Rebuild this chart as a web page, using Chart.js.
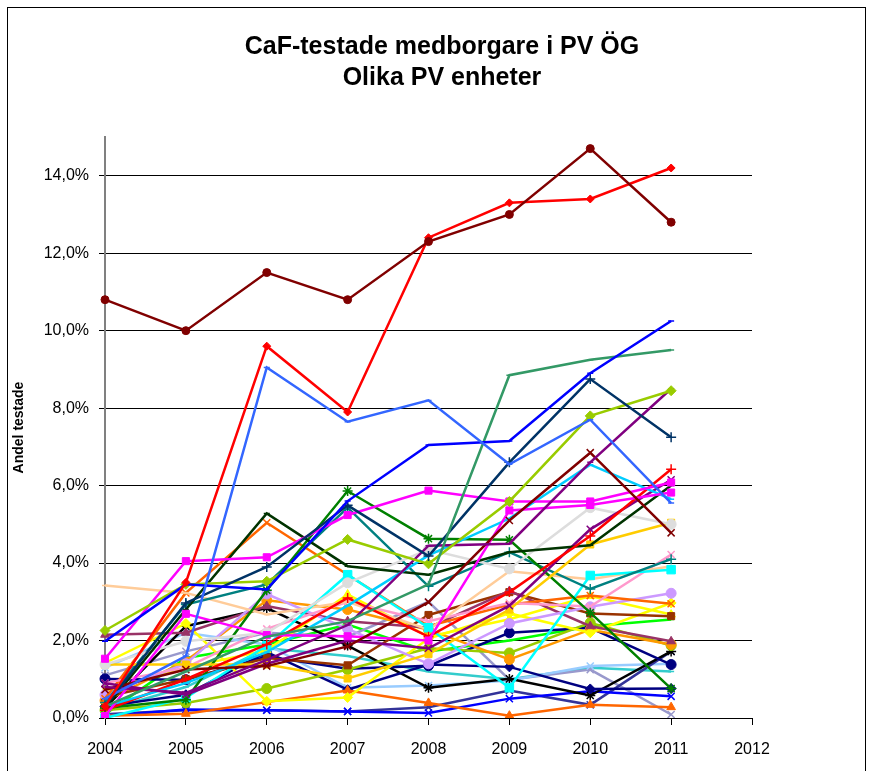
<!DOCTYPE html>
<html>
<head>
<meta charset="utf-8">
<script src="https://cdn.jsdelivr.net/npm/chart.js@4.4.1/dist/chart.umd.min.js"></script>
<style>
    body { margin: 0; background: #fff; }
    #wrap { position: relative; width: 873px; height: 771px; }
    .title {
        position: absolute; left: 0; width: 884px; text-align: center;
        font-family: "Liberation Sans", Arial, sans-serif; font-weight: bold;
        font-size: 25px; color: #000; line-height: 30px;
    }
</style>
</head>
<body>
<div id="wrap">
    <canvas id="chart" width="873" height="771"></canvas>
    <div class="title" style="top:30px">CaF-testade medborgare i PV ÖG</div>
    <div class="title" style="top:61px">Olika PV enheter</div>
</div>
<script>
// år på x-axeln (2012 saknar värden)
const years = ["2004", "2005", "2006", "2007", "2008", "2009", "2010", "2011", "2012"];
const yTicks = [0, 2, 4, 6, 8, 10, 12, 14];

// andel testade (%) per PV-enhet, 2004..2011
const maroonCircle  = [10.8, 10.0, 11.5, 10.8, 12.3, 13.0, 14.7, 12.8];
const redDiamond    = [0.3, 3.5, 9.6, 7.9, 12.4, 13.3, 13.4, 14.2];
const royalBlue     = [0.5, 1.6, 9.05, 7.65, 8.2, 6.55, 7.7, 5.55];
const blueLine      = [1.98, 3.45, 3.32, 5.6, 7.05, 7.15, 8.9, 10.25];
const seaGreen      = [0.3, 1.2, 2.1, 2.5, 3.45, 8.85, 9.25, 9.5];
const darkSlate     = [0.3, 2.97, 3.9, 5.49, 4.18, 6.6, 8.75, 7.25];
const ygDiamond     = [2.26, 3.45, 3.53, 4.61, 3.98, 5.59, 7.8, 8.45];
const purpleLine    = [0.8, 0.65, 1.5, 2.4, 4.45, 4.5, 6.6, 8.5];
const maroonX       = [0.73, 1.25, 1.34, 1.85, 2.99, 5.1, 6.85, 4.78];
const magentaSq1    = [1.53, 4.05, 4.15, 5.24, 5.87, 5.59, 5.59, 6.08];
const magentaSq2    = [0.05, 2.69, 2.14, 2.11, 2.0, 5.36, 5.5, 5.82];
const skyBlue       = [0.3, 0.9, 1.7, 2.9, 4.2, 5.15, 6.54, 5.65];
const redPlus       = [0.2, 1.0, 1.9, 3.1, 2.1, 3.25, 4.7, 6.42];
const darkGreen     = [0.26, 2.8, 5.28, 3.92, 3.7, 4.28, 4.46, 6.0];
const purpleX       = [0.9, 0.6, 1.4, 2.0, 1.8, 2.9, 4.87, 6.15];
const lightGray     = [1.38, 1.98, 2.2, 3.49, 4.35, 3.85, 5.43, 5.0];
const goldSquare    = [1.38, 1.38, 1.38, 1.02, 1.65, 2.8, 4.48, 5.04];
const greenStar     = [0.26, 0.47, 3.3, 5.86, 4.63, 4.6, 2.72, 0.76];
const tealPlus      = [0.4, 2.93, 3.45, 5.43, 3.4, 4.28, 3.33, 4.1];
const cyanSquare    = [0.0, 0.52, 1.87, 3.7, 2.33, 0.78, 3.68, 3.83];
const peachLine     = [3.42, 3.23, 2.67, 3.0, 2.28, 3.79, 3.58, 3.92];
const pinkX         = [0.9, 1.3, 2.3, 3.0, 2.5, 2.97, 2.88, 4.22];
const orangeX       = [0.5, 3.23, 5.04, 3.7, 2.37, 2.93, 3.16, 2.95];
const lilacCircle   = [0.6, 1.4, 3.2, 2.3, 1.4, 2.44, 2.87, 3.22];
const plumTriangle  = [2.15, 2.2, 2.89, 2.5, 2.33, 3.28, 2.37, 1.98];
const brownSquare   = [0.55, 1.0, 1.55, 1.36, 2.66, 3.25, 2.7, 2.63];
const yellowDiamond = [1.42, 2.44, 0.43, 0.53, 2.05, 2.7, 2.2, 2.97];
const yellowTri     = [0.7, 1.3, 1.75, 3.19, 2.1, 2.55, 3.15, 2.67];
const orangeCircle  = [0.45, 1.47, 3.04, 2.8, 2.28, 1.51, 2.28, 1.9];
const orangeTri     = [0.06, 0.11, 0.41, 0.71, 0.39, 0.06, 0.34, 0.28];
const ygCircle      = [0.2, 0.39, 0.76, 1.25, 1.8, 1.68, 2.46, 1.87];
const navyCircle    = [1.01, 0.99, 1.59, 1.27, 1.35, 2.2, 2.33, 1.38];
const navyDiamond   = [0.3, 0.6, 1.7, 0.73, 1.38, 1.32, 0.75, 0.76];
const blackStar     = [0.26, 2.37, 2.84, 1.87, 0.78, 1.01, 0.58, 1.72];
const blueX         = [0.05, 0.22, 0.2, 0.17, 0.13, 0.5, 0.69, 0.56];
const slateBlueX    = [0.1, 0.2, 0.2, 0.17, 0.28, 0.71, 0.34, 1.72];
const lightBlueX    = [1.3, 2.2, 1.9, 0.78, 0.84, 0.97, 1.34, 1.4];
const lavenderX     = [1.1, 1.72, 2.2, 2.1, 3.0, 0.99, 1.25, 0.09];
const brightGreen   = [0.1, 1.55, 1.9, 2.41, 1.72, 2.0, 2.37, 2.54];
const turquoise     = [0.2, 0.8, 1.8, 1.6, 1.2, 1.0, 1.3, 1.2];

// [data, färg, markör, storlek]
const seriesDefs = [
    [maroonCircle, "#800000", "circle", 4],
    [redDiamond, "#FF0000", "rectRot", 4],
    [royalBlue, "#3366FF", "line", 3],
    [blueLine, "#0000FF", "line", 3],
    [seaGreen, "#339966", "line", 3],
    [darkSlate, "#003366", "cross", 5],
    [ygDiamond, "#99CC00", "rectRot", 5],
    [purpleLine, "#800080", "line", 3],
    [maroonX, "#800000", "crossRot", 5],
    [magentaSq1, "#FF00FF", "rect", 5],
    [magentaSq2, "#FF00FF", "rect", 5],
    [skyBlue, "#00CCFF", "line", 3],
    [redPlus, "#FF0000", "cross", 5],
    [darkGreen, "#003300", "line", 3],
    [purpleX, "#800080", "crossRot", 5],
    [lightGray, "#DDDDDD", "circle", 5],
    [goldSquare, "#FFCC00", "rect", 5],
    [greenStar, "#008000", "star", 5],
    [tealPlus, "#008080", "cross", 5],
    [cyanSquare, "#00FFFF", "rect", 6],
    [peachLine, "#FFCC99", "line", 3],
    [pinkX, "#FF99CC", "crossRot", 5],
    [orangeX, "#FF6600", "crossRot", 5],
    [lilacCircle, "#CC99FF", "circle", 5],
    [plumTriangle, "#993366", "triangle", 5],
    [brownSquare, "#993300", "rect", 5],
    [yellowDiamond, "#FFFF00", "rectRot", 5],
    [yellowTri, "#FFFF00", "triangle", 5],
    [orangeCircle, "#FF9900", "circle", 5],
    [orangeTri, "#FF6600", "triangle", 5],
    [ygCircle, "#99CC00", "circle", 5],
    [navyCircle, "#000080", "circle", 5],
    [navyDiamond, "#000080", "rectRot", 5],
    [blackStar, "#000000", "star", 5],
    [blueX, "#0000FF", "crossRot", 5],
    [slateBlueX, "#333399", "crossRot", 5],
    [lightBlueX, "#99CCFF", "crossRot", 5],
    [lavenderX, "#9999CC", "crossRot", 5],
    [brightGreen, "#00FF00", "line", 3],
    [turquoise, "#33CCCC", "line", 3]
];

const datasets = seriesDefs.map(([data, color, marker, size], i) => ({
    label: "PV " + (i + 1),
    data: data,
    borderColor: color,
    backgroundColor: color,
    borderWidth: 2.5,
    tension: 0,
    fill: false,
    pointStyle: marker,
    pointRadius: size,
    pointBorderWidth: marker === "cross" || marker === "crossRot" || marker === "star" || marker === "line" ? 1.5 : 1,
    spanGaps: false
}));

// ram runt hela diagrammet
const framePlugin = {
    id: "framePlugin",
    afterDraw(chart) {
        const { ctx } = chart;
        ctx.save();
        ctx.strokeStyle = "#000";
        ctx.lineWidth = 1;
        ctx.strokeRect(7.5, 7.5, 858, 790);
        ctx.restore();
    }
};

new Chart(document.getElementById("chart").getContext("2d"), {
    type: "line",
    data: { labels: years, datasets: datasets },
    options: {
        responsive: false,
        animation: false,
        layout: { padding: { left: 8, right: 121, top: 137, bottom: 13 } },
        plugins: {
            legend: { display: false },
            tooltip: { enabled: false },
            title: { display: false }
        },
        scales: {
            x: {
                type: "category",
                offset: false,
                grid: { display: true, drawOnChartArea: false, color: "#000", tickLength: 7, offset: false },
                border: { color: "#000", width: 1 },
                ticks: {
                    color: "#000", padding: 15, maxRotation: 0, autoSkip: false,
                    font: { family: "'Liberation Sans', Arial, sans-serif", size: 16 }
                },
                afterFit(scale) { scale.height = 40; }
            },
            y: {
                min: 0,
                max: 15,
                afterBuildTicks(scale) { scale.ticks = yTicks.map(v => ({ value: v })); },
                grid: { color: "#000", lineWidth: 1, tickLength: 6 },
                border: { color: "#808080", width: 2 },
                ticks: {
                    color: "#000", padding: 10,
                    font: { family: "'Liberation Sans', Arial, sans-serif", size: 16 },
                    callback: (v) => v.toFixed(1).replace(".", ",") + "%"
                },
                title: {
                    display: true, text: "Andel testade", color: "#000",
                    font: { family: "'Liberation Sans', Arial, sans-serif", size: 14, weight: "bold" },
                    padding: { top: 3, bottom: 4 }
                },
                afterFit(scale) { scale.width = 97; }
            }
        }
    },
    plugins: [framePlugin]
});
</script>
</body>
</html>
